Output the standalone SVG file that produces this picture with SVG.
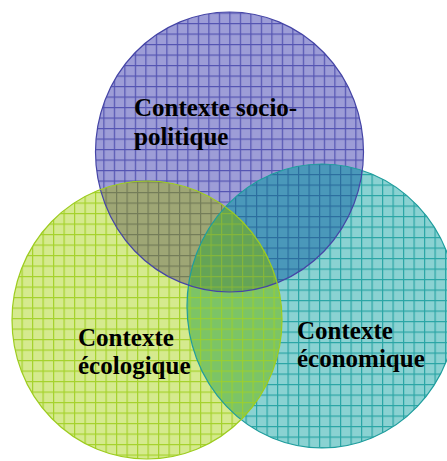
<svg xmlns="http://www.w3.org/2000/svg" xmlns:xlink="http://www.w3.org/1999/xlink" width="447" height="461" viewBox="0 0 447 461">
<style>
.lbl{font-family:"Liberation Serif","Times New Roman",serif;font-weight:bold;font-size:25px;fill:#000}
.edge{fill:none;stroke-width:1.2}
</style>
<defs>
<pattern id="pP" patternUnits="userSpaceOnUse" x="8.8" y="2" width="10.5" height="10.5"><rect width="10.5" height="10.5" fill="#9d9dd7"/><path d="M0 0.6H10.5M0.6 0V10.5" stroke="#5454b2" stroke-width="1.2"/></pattern>
<pattern id="pG" patternUnits="userSpaceOnUse" x="0.5" y="3" width="10.5" height="10.5"><rect width="10.5" height="10.5" fill="#d5ea8e"/><path d="M0 0.6H10.5M0.6 0V10.5" stroke="#a5d22c" stroke-width="1.2"/></pattern>
<pattern id="pT" patternUnits="userSpaceOnUse" x="4" y="6" width="10.5" height="10.5"><rect width="10.5" height="10.5" fill="#8ad2d2"/><path d="M0 0.6H10.5M0.6 0V10.5" stroke="#2aa5a5" stroke-width="1.2"/></pattern>
<pattern id="pPG" patternUnits="userSpaceOnUse" x="0.5" y="3" width="10.5" height="10.5"><rect width="10.5" height="10.5" fill="#9ea675"/><path d="M0 0.6H10.5M0.6 0V10.5" stroke="#737c58" stroke-width="1.2"/></pattern>
<pattern id="pPT" patternUnits="userSpaceOnUse" x="4" y="6" width="10.5" height="10.5"><rect width="10.5" height="10.5" fill="#4a98ba"/><path d="M0 0.6H10.5M0.6 0V10.5" stroke="#2b6e9e" stroke-width="1.2"/></pattern>
<pattern id="pGT" patternUnits="userSpaceOnUse" x="0.5" y="3" width="10.5" height="10.5"><rect width="10.5" height="10.5" fill="#7cc466"/><path d="M0 0.6H10.5M0.6 0V10.5" stroke="#98ce34" stroke-width="1.2"/></pattern>
<pattern id="pPGT" patternUnits="userSpaceOnUse" x="0.5" y="3" width="10.5" height="10.5"><rect width="10.5" height="10.5" fill="#64a456"/><path d="M0 0.6H10.5M0.6 0V10.5" stroke="#84b63a" stroke-width="1.2"/></pattern>
<ellipse id="eP" cx="229.5" cy="152" rx="134" ry="140"/>
<ellipse id="eG" cx="147" cy="320" rx="135" ry="139"/>
<ellipse id="eT" cx="322" cy="306" rx="135" ry="142"/>
<clipPath id="cP"><use xlink:href="#eP"/></clipPath>
<clipPath id="cT"><use xlink:href="#eT"/></clipPath>
</defs>
<g id="socio">
<use xlink:href="#eP" fill="url(#pP)"/>
</g>
<g id="econ">
<use xlink:href="#eT" fill="url(#pT)"/>
</g>
<g id="eco">
<use xlink:href="#eG" fill="url(#pG)"/>
</g>
<g id="overlaps">
<use xlink:href="#eG" fill="url(#pPG)" clip-path="url(#cP)"/>
<use xlink:href="#eT" fill="url(#pPT)" clip-path="url(#cP)"/>
<use xlink:href="#eG" fill="url(#pGT)" clip-path="url(#cT)"/>
<g clip-path="url(#cP)"><use xlink:href="#eG" fill="url(#pPGT)" clip-path="url(#cT)"/></g>
</g>
<g id="outlines">
<use xlink:href="#eT" class="edge" stroke="#1f9d9d"/>
<use xlink:href="#eP" class="edge" stroke="#4545a6"/>
<use xlink:href="#eG" class="edge" stroke="#9dcc1f"/>
</g>
<g id="labels">
<text class="lbl" x="134" y="116">Contexte socio-</text>
<text class="lbl" x="134" y="144.5">politique</text>
<text class="lbl" x="78" y="346">Contexte</text>
<text class="lbl" x="78" y="374">écologique</text>
<text class="lbl" x="297" y="338.5">Contexte</text>
<text class="lbl" x="297" y="366.7">économique</text>
</g>
</svg>
